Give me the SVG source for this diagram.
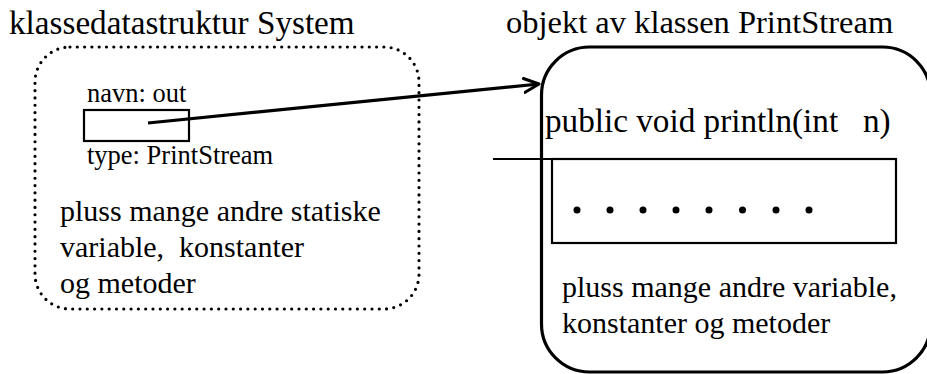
<svg xmlns="http://www.w3.org/2000/svg" width="927" height="374" viewBox="0 0 927 374">
<style>
.t{font-family:'Liberation Serif','DejaVu Serif',serif;fill:#000}
.title{font-size:32.5px}
.body{font-size:30px}
.small{font-size:26.5px}
.solid{fill:none;stroke:#000}
</style>
<defs>
<marker id="arr" markerUnits="userSpaceOnUse" markerWidth="20" markerHeight="20" refX="16" refY="8" orient="auto" viewBox="0 0 20 16">
<path d="M1,1 L16,8 L1,15" fill="none" stroke="#000" stroke-width="3" stroke-linecap="round" stroke-linejoin="round"/>
</marker>
</defs>
<rect width="927" height="374" fill="#fff"/>
<g id="system" font-family="Liberation Serif, DejaVu Serif, serif">
<text class="t title" x="9" y="34" style="font-size:33.2px">klassedatastruktur System</text>
<rect x="35" y="47" width="384" height="262" rx="35" ry="35" fill="none" stroke="#000" stroke-width="3.2" stroke-dasharray="0 7.3" stroke-linecap="round"/>
<text class="t small" x="87" y="102">navn: out</text>
<rect class="solid" x="84" y="110" width="105" height="31" stroke-width="2.2"/>
<text class="t small" x="87" y="164">type: PrintStream</text>
<text class="t body" x="60" y="221">pluss mange andre statiske</text>
<text class="t body" x="60" y="257" xml:space="preserve">variable,  konstanter</text>
<text class="t body" x="60" y="293">og metoder</text>
</g>
<g id="printstream" font-family="Liberation Serif, DejaVu Serif, serif">
<text class="t title" x="506" y="33">objekt av klassen PrintStream</text>
<rect class="solid" x="541.5" y="47" width="389" height="325" rx="48" ry="48" stroke-width="3.2"/>
<text class="t title" x="545" y="132" style="font-size:33.2px" xml:space="preserve">public void println(int   n)</text>
<rect class="solid" x="552" y="159" width="344" height="84" stroke-width="2.2"/>
<g id="dots" fill="#000">
<circle cx="577" cy="210" r="3.5"/>
<circle cx="610" cy="210" r="3.5"/>
<circle cx="643" cy="210" r="3.5"/>
<circle cx="676" cy="210" r="3.5"/>
<circle cx="709" cy="210" r="3.5"/>
<circle cx="742.5" cy="210" r="3.5"/>
<circle cx="776" cy="210" r="3.5"/>
<circle cx="809" cy="210" r="3.5"/>
</g>
<text class="t body" x="562" y="297">pluss mange andre variable,</text>
<text class="t body" x="562" y="333">konstanter og metoder</text>
</g>
<g id="connectors">
<line x1="148" y1="123" x2="539" y2="84" stroke="#000" stroke-width="3.2" marker-end="url(#arr)"/>
<line x1="493" y1="159" x2="570" y2="159" stroke="#000" stroke-width="2.2"/>
</g>
</svg>
